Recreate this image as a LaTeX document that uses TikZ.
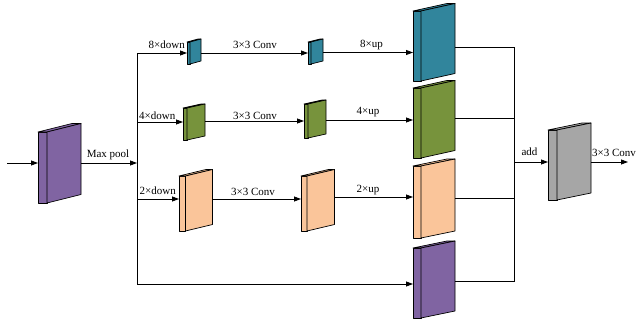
\documentclass[tikz,border=0pt]{standalone}
\usepackage{fontspec}
\setmainfont{Liberation Serif}
\usetikzlibrary{arrows.meta}
\definecolor{cblue}{HTML}{31859C}
\definecolor{cgreen}{HTML}{77933C}
\definecolor{corange}{HTML}{FAC59A}
\definecolor{cpurple}{HTML}{8064A2}
\definecolor{cgray}{HTML}{A6A6A6}
\newcommand\slab[8]{%
  \filldraw[fill=#8,draw=black,line width=0.7pt,line join=round] (#2,#3) rectangle ++(#4,#5);
  \filldraw[fill=#8,draw=black,line width=0.7pt,line join=round] (#2,#3) -- ++(#6,-#7) -- ++(#4,0) -- ++(-#6,#7) -- cycle;
  \filldraw[fill=#8,draw=black,line width=0.7pt,line join=round] (#2+#4,#3) -- ++(#6,-#7) -- ++(0,#5) -- ++(-#6,#7) -- cycle;
  \coordinate (#1-l) at (#2,#3+#5/2);
  \coordinate (#1-r) at (#2+#4+#6,#3+#5/2-#7);
}
\tikzset{
  arr/.style={draw=black,line width=0.8pt,-{Triangle[length=7pt,width=5pt]}},
  ln/.style={draw=black,line width=0.8pt},
  lbl/.style={inner sep=0pt,font=\fontsize{11}{13}\selectfont}
}
\begin{document}
\begin{tikzpicture}[x=1pt,y=-1pt]
\useasboundingbox (0,0) rectangle (638,324);
\clip (0,0) rectangle (638,324);
% blocks
\slab{inb}{38}{132}{9}{71}{34}{8.5}{cpurple}
\slab{b1}{187}{42}{3}{22}{11}{3}{cblue}
\slab{b2}{308}{42}{3}{22}{12}{3}{cblue}
\slab{g1}{183}{108}{4}{32}{18}{4}{cgreen}
\slab{g2}{304}{104}{4}{34}{18}{4}{cgreen}
\slab{o1}{179}{176}{6.5}{55}{27}{6.5}{corange}
\slab{o2}{301}{176}{6}{55}{27.5}{6.5}{corange}
\slab{B}{413}{11}{8}{70}{34}{7.5}{cblue}
\slab{G}{413}{88}{8}{70}{34}{7.5}{cgreen}
\slab{O}{413}{166}{8}{72}{34}{7}{corange}
\slab{P}{413}{248}{8}{70}{34}{7}{cpurple}
\slab{Y}{548}{130}{9}{70}{34}{7}{cgray}
% junction coordinates
\coordinate (start) at (7,163);
\coordinate (split) at (137,163);
\coordinate (stop) at (137,53);
\coordinate (sbot) at (137,284);
\coordinate (mtop) at (514,47);
\coordinate (mbot) at (514,281);
\coordinate (madd) at (514,162);
\coordinate (outend) at (628,162);
% input
\draw[arr] (start) -- (inb-l |- start);
\draw[arr] (inb-r |- split) -- (split);
\node[lbl] (tmax) at (108,155) {Max pool};
% split bus
\draw[ln] (stop) -- (sbot);
\draw[arr] (stop) -- (b1-l |- stop);
\draw[arr] (split |- 0,122) -- (g1-l |- 0,122);
\draw[arr] (split |- 0,199) -- (o1-l |- 0,199);
\draw[arr] (sbot) -- (P-l |- sbot);
\node[lbl,anchor=east] (t8d) at (185,45) {8×down};
\node[lbl,anchor=west] (t4d) at (139,115.5) {4×down};
\node[lbl,anchor=west] (t2d) at (139.5,190.5) {2×down};
% conv arrows
\draw[arr] (b1-r |- 0,53) -- (b2-l |- 0,53);
\draw[arr] (g1-r |- 0,121) -- (g2-l |- 0,121);
\draw[arr] (o1-r |- 0,199) -- (o2-l |- 0,199);
\node[lbl] (tc1) at (255,45) {3×3 Conv};
\node[lbl] (tc2) at (255,115.5) {3×3 Conv};
\node[lbl] (tc3) at (253,191.5) {3×3 Conv};
% up arrows
\draw[arr] (b2-r |- 0,52.5) -- (B-l |- 0,52.5);
\draw[arr] (g2-r |- 0,120) -- (G-l |- 0,120);
\draw[arr] (o2-r |- 0,197) -- (O-l |- 0,197);
\node[lbl] (tu8) at (371.5,45) {8×up};
\node[lbl] (tu4) at (368,112.5) {4×up};
\node[lbl] (tu2) at (368,190.5) {2×up};
% merge bus
\draw[ln] (B-r |- mtop) -- (mtop) -- (mbot) -- (P-r |- mbot);
\draw[ln] (G-r |- 0,118.5) -- (mtop |- 0,118.5);
\draw[ln] (O-r |- 0,198.5) -- (mtop |- 0,198.5);
\draw[arr] (madd) -- (Y-l |- madd);
\node[lbl] (tadd) at (529.5,151.5) {add};
\draw[arr] (Y-r |- outend) -- (outend);
\node[lbl,anchor=west] (tout) at (592,153) {3×3 Conv};
\end{tikzpicture}
\end{document}
